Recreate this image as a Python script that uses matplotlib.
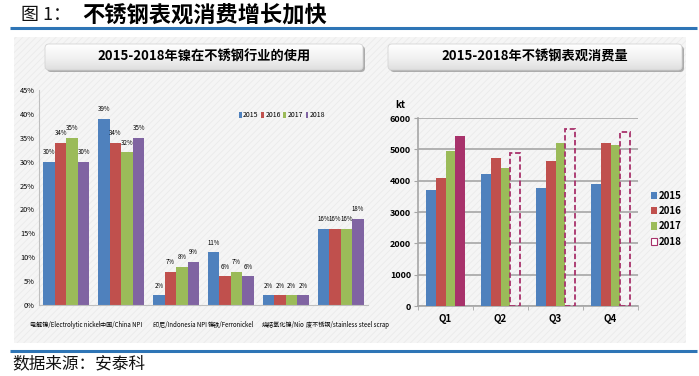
import matplotlib.pyplot as plt
import numpy as np
from matplotlib.patches import Rectangle, FancyBboxPatch, Patch

# ---- datos ----
years = ["2015", "2016", "2017", "2018"]
nickel_cats = ["电解镍/Electrolytic nickel", "中国/China NPI", "印尼/Indonesia NPI",
               "镍铁/Ferronickel", "烧结氧化镍/Nio", "废不锈钢/stainless steel scrap"]
use_2015 = [30, 39, 2, 11, 2, 16]
use_2016 = [34, 34, 7, 6, 2, 16]
use_2017 = [35, 32, 8, 7, 2, 16]
use_2018 = [30, 35, 9, 6, 2, 18]
pct_ticks = [0, 5, 10, 15, 20, 25, 30, 35, 40, 45]

quarters = ["Q1", "Q2", "Q3", "Q4"]
cons_2015 = [3700, 4200, 3780, 3900]
cons_2016 = [4070, 4730, 4620, 5210]
cons_2017 = [4950, 4420, 5190, 5130]
cons_2018 = [5420, 4880, 5650, 5540]
kt_ticks = [0, 1000, 2000, 3000, 4000, 5000, 6000]

colors = ["#4F81BD", "#C0504D", "#9BBB59", "#8064A2"]
crimson = "#A8326B"

plt.rcParams['font.family'] = ["Noto Sans CJK SC", "DejaVu Sans"]
plt.rcParams['hatch.linewidth'] = 0.6

W, H = 699, 376
fig = plt.figure(figsize=(W / 100, H / 100), dpi=100)


def rect(x0, y0, x1, y1):
    return [x0 / W, 1 - y1 / H, (x1 - x0) / W, (y1 - y0) / H]


# ---- fondo / decoracion ----
bg = fig.add_axes([0, 0, 1, 1], zorder=0)
bg.axis("off")

bg.text(21, 15, "图 1：", fontsize=13, va="center", ha="left", color="#111111")
bg.text(82, 15, "不锈钢表观消费增长加快", fontsize=16, fontweight="bold",
        va="center", ha="left", color="#000000")
bg.plot([10, 697], [28, 28], color="#2E75B6", lw=2.2, solid_capstyle="butt")
bg.plot([10, 697], [351, 351], color="#2E75B6", lw=2.2, solid_capstyle="butt")
bg.text(12, 364, "数据来源：安泰科", fontsize=12, va="center", ha="left", color="#111111")

bg.add_patch(Rectangle((14, 37), 672, 306, facecolor="#f5f5f5", edgecolor="#ebebeb",
                       hatch="/////", lw=0))

grad = np.linspace(0.0, 0.22, 50).reshape(-1, 1)
for (x0, x1, txt) in [(45, 363, "2015-2018年镍在不锈钢行业的使用"),
                      (388, 682, "2015-2018年不锈钢表观消费量")]:
    sh = FancyBboxPatch((x0 + 2, 46), x1 - x0, 26, boxstyle="round,pad=0,rounding_size=4",
                        facecolor="#9a9a9a", edgecolor="none", alpha=0.8)
    bg.add_patch(sh)
    box = FancyBboxPatch((x0, 44), x1 - x0, 26, boxstyle="round,pad=0,rounding_size=4",
                         facecolor="none", edgecolor="#d4d4d4", lw=0.6, zorder=3)
    bg.add_patch(box)
    im = bg.imshow(grad, extent=(x0, x1, 70, 44), cmap="Greys", vmin=0, vmax=1,
                   aspect="auto", zorder=2)
    im.set_clip_path(box)
    bg.text((x0 + x1) / 2, 57, txt, fontsize=9.5, fontweight="bold",
            ha="center", va="center", zorder=4)
bg.set_xlim(0, W)
bg.set_ylim(H, 0)

# ---- grafico izquierdo ----
ax1 = fig.add_axes(rect(39, 90, 368, 305), zorder=2)
ax1.set_facecolor("none")
x = np.arange(len(nickel_cats))
bw = 0.21
series = [use_2015, use_2016, use_2017, use_2018]
for i, (vals, c) in enumerate(zip(series, colors)):
    bars = ax1.bar(x + (i - 1.5) * bw, vals, bw, color=c, label=years[i])
    ax1.bar_label(bars, labels=[f"{v}%" for v in vals], padding=4, fontsize=4.4)
ax1.set_xlim(-0.5, len(nickel_cats) - 0.5)
ax1.set_ylim(0, 45)
ax1.set_yticks(pct_ticks)
ax1.set_yticklabels([f"{t}%" for t in pct_ticks], fontsize=5.3)
ax1.set_xticks(x)
ax1.set_xticklabels([])
ax1.tick_params(length=0, pad=3)
# etiquetas del eje x, alineadas a la izquierda como en el original
label_left = [-0.664, 0.613, 1.58, 2.584, 3.569, 4.372]
for lx, lab in zip(label_left, nickel_cats):
    ax1.text(lx, -0.093, lab, transform=ax1.get_xaxis_transform(), fontsize=4.4,
             ha="left", va="center")
for s in ["top", "right"]:
    ax1.spines[s].set_visible(False)
for s in ["left", "bottom"]:
    ax1.spines[s].set_color("#bfbfbf")
ax1.legend(loc="upper left", bbox_to_anchor=(0.59, 0.93), ncol=4, frameon=False,
           fontsize=5, handlelength=0.35, handleheight=0.9, handletextpad=0.2,
           columnspacing=0.4)

# ---- grafico derecho ----
ax2 = fig.add_axes(rect(418, 118, 638, 306), zorder=2)
ax2.set_facecolor("none")
q = np.arange(len(quarters))
bw2 = 0.18
ax2.bar(q - 1.5 * bw2, cons_2015, bw2, color=colors[0], label="2015", zorder=3)
ax2.bar(q - 0.5 * bw2, cons_2016, bw2, color=colors[1], label="2016", zorder=3)
ax2.bar(q + 0.5 * bw2, cons_2017, bw2, color=colors[2], label="2017", zorder=3)
ax2.bar(q[:1] + 1.5 * bw2, cons_2018[:1], bw2, color=crimson, zorder=3)
ax2.bar(q[1:] + 1.5 * bw2, cons_2018[1:], bw2, facecolor="none", edgecolor=crimson,
        linestyle=(0, (3, 1.5)), lw=1.3, zorder=3)
ax2.set_xlim(-0.5, len(quarters) - 0.5)
ax2.set_ylim(0, 6000)
ax2.set_yticks(kt_ticks)
ax2.set_yticklabels([str(t) for t in kt_ticks], fontsize=6.5, fontweight="bold")
ax2.set_xticks(q)
ax2.set_xticklabels(quarters, fontsize=7, fontweight="bold")
ax2.set_xticks(np.arange(-0.5, len(quarters)), minor=True)
ax2.tick_params(axis="x", which="major", length=0, pad=6)
ax2.tick_params(axis="x", which="minor", length=3, color="#a6a6a6")
ax2.tick_params(axis="y", length=3, color="#a6a6a6", pad=2)
ax2.grid(axis="y", color="#a6a6a6", lw=1.2, zorder=0)
for s in ["top", "right"]:
    ax2.spines[s].set_visible(False)
for s in ["left", "bottom"]:
    ax2.spines[s].set_color("#a6a6a6")
    ax2.spines[s].set_linewidth(1.2)
ax2.text(-0.08, 1.07, "kt", transform=ax2.transAxes, fontsize=7, fontweight="bold",
         ha="center", va="center")
handles = [Patch(facecolor=colors[0]), Patch(facecolor=colors[1]),
           Patch(facecolor=colors[2]),
           Patch(facecolor="white", edgecolor=crimson, lw=0.8)]
ax2.legend(handles, years, loc="upper left", bbox_to_anchor=(1.02, 0.66), frameon=False,
           prop={"weight": "bold", "size": 7}, handlelength=0.6, handleheight=0.8,
           handletextpad=0.2, labelspacing=0.55)

plt.savefig("out.png", dpi=100)
